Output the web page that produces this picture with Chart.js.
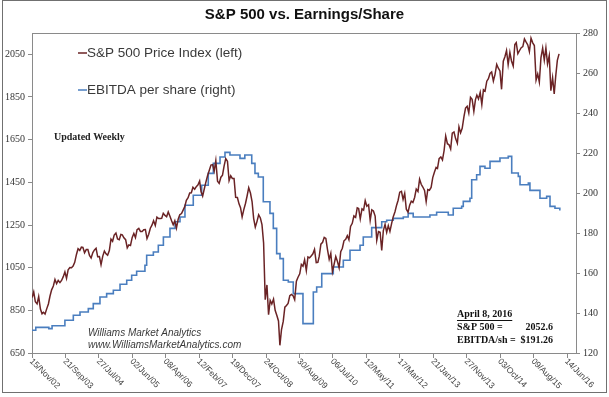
<!DOCTYPE html>
<html>
<head>
<meta charset="utf-8">
<script src="https://cdn.jsdelivr.net/npm/chart.js@4.4.1/dist/chart.umd.min.js"></script>
<style>
  html, body { margin: 0; padding: 0; background: #fff; }
  #wrap { width: 609px; height: 397px; position: relative; }
</style>
</head>
<body>
<div id="wrap"><canvas id="chart"></canvas></div>
<script>
// S&P 500, read twice a month (1st and 16th), starting 16 Nov 2002
const spxStart = [2002, 10, 16];
const spxValues = [
  910, 936, 890,
  880, 915, 856, 834, 841, 833, 858, 880, 917, 946, 964, 995, 975, 990, 980, 990, 1008, 1030, 1000, 1040, 1051, 1050, 1058, 1075,
  1112, 1139, 1131, 1146, 1145, 1120, 1135, 1135, 1107, 1095, 1121, 1133, 1141, 1101, 1102, 1064, 1104, 1128, 1115, 1108, 1130, 1184, 1174, 1203,
  1212, 1185, 1181, 1206, 1204, 1190, 1181, 1143, 1157, 1154, 1192, 1210, 1191, 1228, 1234, 1220, 1220, 1228, 1229, 1187, 1207, 1235, 1249, 1270,
  1248, 1287, 1280, 1280, 1281, 1305, 1295, 1289, 1311, 1292, 1270, 1251, 1270, 1236, 1277, 1298, 1304, 1320, 1336, 1366, 1378, 1400, 1401, 1427,
  1418, 1430, 1438, 1456, 1407, 1386, 1421, 1453, 1482, 1505, 1531, 1533, 1503, 1552, 1455, 1445, 1474, 1484, 1527, 1561, 1549, 1458, 1481, 1468,
  1468, 1380, 1379, 1349, 1331, 1288, 1323, 1351, 1386, 1425, 1400, 1360, 1280, 1240, 1267, 1298, 1283, 1252, 1166, 900, 969, 830, 896, 880,
  903, 850, 826, 800, 686, 760, 798, 865, 873, 882, 919, 925, 919, 900, 987, 1005, 1021, 1065, 1057, 1087, 1036, 1100, 1096, 1105,
  1115, 1136, 1074, 1075, 1104, 1160, 1169, 1192, 1187, 1136, 1089, 1117, 1031, 1065, 1102, 1080, 1049, 1125, 1141, 1176, 1183, 1200, 1181, 1243,
  1258, 1293, 1286, 1330, 1327, 1279, 1326, 1320, 1364, 1338, 1345, 1272, 1321, 1316, 1292, 1178, 1219, 1216, 1131, 1224, 1253, 1216, 1247, 1220,
  1258, 1289, 1312, 1343, 1366, 1404, 1408, 1370, 1398, 1324, 1310, 1343, 1362, 1356, 1379, 1418, 1407, 1465, 1441, 1428, 1412, 1360, 1416, 1413,
  1426, 1472, 1498, 1520, 1515, 1561, 1569, 1555, 1598, 1667, 1631, 1626, 1606, 1680, 1686, 1655, 1633, 1710, 1682, 1703, 1757, 1798, 1806, 1775,
  1848, 1839, 1783, 1838, 1859, 1841, 1872, 1815, 1884, 1878, 1924, 1936, 1960, 1967, 1925, 1955, 2003, 1985, 1972, 1886, 2018, 2039, 2068, 2002,
  2059, 2019, 1995, 2096, 2105, 2053, 2068, 2081, 2086, 2122, 2107, 2094, 2063, 2126, 2104, 2091, 1930, 1958, 1920, 2033, 2079, 2023, 2080, 2005,
  2044, 1880, 1940, 1864, 1948, 2022, 2052
];

// EBITDA per share: date each new level starts, and the level
const ebitdaDates = [
  '2002-11-15', '2002-12-20', '2003-04-20', '2003-05-20', '2003-09-16', '2003-12-03', '2004-02-03', '2004-04-20',
  '2004-06-05', '2004-08-06', '2004-10-07', '2004-12-08', '2005-02-08', '2005-04-11', '2005-05-27', '2005-07-12',
  '2005-09-27', '2005-10-13', '2005-12-14', '2006-01-29', '2006-03-17', '2006-05-17', '2006-07-03', '2006-08-18',
  '2006-10-03', '2006-12-19', '2007-03-07', '2007-05-07', '2007-06-23', '2007-08-24', '2007-10-09', '2007-11-24',
  '2008-02-25', '2008-04-10', '2008-06-13', '2008-07-13', '2008-08-13', '2008-09-28', '2008-11-29', '2008-12-30',
  '2009-01-30', '2009-03-02', '2009-04-02', '2009-05-18', '2009-07-03', '2009-10-01', '2010-01-05', '2010-02-05',
  '2010-03-24', '2010-07-09', '2010-10-10', '2010-12-11', '2011-03-14', '2011-04-13', '2011-06-30', '2011-10-01',
  '2011-11-16', '2012-01-16', '2012-04-18', '2012-06-02', '2012-07-19', '2012-12-21', '2013-02-21', '2013-06-09',
  '2013-07-25', '2013-10-11', '2013-10-26', '2013-12-27', '2014-01-12', '2014-02-27', '2014-03-30', '2014-05-15',
  '2014-07-01', '2014-10-01', '2014-12-17', '2015-01-18', '2015-03-20', '2015-04-05', '2015-06-21', '2015-07-06',
  '2015-10-07', '2015-12-08', '2016-01-08', '2016-02-23', '2016-04-08'
];
const ebitdaValues = [
  131.4, 132.8, 132.2, 133.6, 136.4, 138.9, 140.5, 142.2,
  144.7, 148.0, 149.7, 151.4, 154.4, 156.4, 158.9, 160.9,
  163.9, 168.9, 170.5, 173.9, 178.0, 182.3, 185.6, 188.0,
  193.9, 198.9, 203.9, 209.8, 214.8, 218.0, 220.3, 219.0,
  217.3, 219.0, 214.8, 209.8, 208.0, 195.6, 189.8, 182.3,
  169.7, 167.2, 156.4, 155.5, 149.7, 134.7, 150.5, 153.0,
  159.7, 163.0, 166.4, 171.4, 173.9, 178.0, 182.7, 185.6,
  186.4, 187.3, 188.0, 189.8, 188.0, 189.0, 190.4, 189.0,
  192.4, 193.3, 195.8, 197.4, 206.6, 209.1, 213.3, 212.4,
  215.8, 217.5, 218.3, 210.0, 208.3, 204.1, 205.0, 201.3,
  197.4, 198.3, 193.3, 192.4, 191.26
];

const xTickLabels = [
  '15/Nov/02', '21/Sep/03', '27/Jul/04', '02/Jun/05', '08/Apr/06', '12/Feb/07', '19/Dec/07', '24/Oct/08',
  '30/Aug/09', '06/Jul/10', '12/May/11', '17/Mar/12', '21/Jan/13', '27/Nov/13', '03/Oct/14', '09/Aug/15', '14/Jun/16'
];
const leftTicks = [650, 850, 1050, 1250, 1450, 1650, 1850, 2050];
const rightTicks = [120, 140, 160, 180, 200, 220, 240, 260, 280];
const xAxisEnd = '2016-09-05';

const noteLines = ['S&P 500 =', 'EBITDA/sh ='];
const noteValues = ['2052.6', '$191.26'];

const MONTHS = ['Jan', 'Feb', 'Mar', 'Apr', 'May', 'Jun', 'Jul', 'Aug', 'Sep', 'Oct', 'Nov', 'Dec'];

function dayOf(s) {
  let [y, m, d] = s.split('-').map(Number);
  return Date.UTC(y, m - 1, d) / 864e5;
}
function tickDay(label) {
  let [d, mon, yy] = label.split('/');
  return Date.UTC(2000 + Number(yy), MONTHS.indexOf(mon), Number(d)) / 864e5;
}

let spxPoints = [];
let [yr, mo, dy] = spxStart;
spxValues.forEach(v => {
  spxPoints.push({ x: Date.UTC(yr, mo, dy) / 864e5, y: v });
  if (dy === 1) {
    dy = 16;
  } else {
    dy = 1;
    mo++;
    if (mo === 12) { mo = 0; yr++; }
  }
});

let ebitdaPoints = ebitdaDates.map((d, i) => ({ x: dayOf(d), y: ebitdaValues[i] }));

const AXIS = '#8a8a8a';
const SPX_COLOR = '#6a2325';
const EBITDA_COLOR = '#4a7ebf';

const decorations = {
  id: 'decorations',
  afterDraw(chart) {
    let { ctx, chartArea: a, scales } = chart;
    ctx.save();

    // top edge of the plot frame
    ctx.strokeStyle = AXIS;
    ctx.lineWidth = 1;
    ctx.beginPath();
    ctx.moveTo(a.left, a.top + 0.5);
    ctx.lineTo(a.right, a.top + 0.5);
    ctx.stroke();

    // outer frame
    ctx.strokeStyle = '#707070';
    ctx.strokeRect(2.5, 0.5, 604, 392);

    // date labels, slanting down to the right
    ctx.fillStyle = '#404040';
    ctx.font = '8.5px "Liberation Sans", Arial, sans-serif';
    ctx.textAlign = 'left';
    ctx.textBaseline = 'middle';
    xTickLabels.forEach(l => {
      let px = scales.x.getPixelForValue(tickDay(l));
      ctx.save();
      ctx.translate(px - 1, a.bottom + 7);
      ctx.rotate(Math.PI / 4);
      ctx.fillText(l, 0, 0);
      ctx.restore();
    });

    // legend inside the plot
    let legend = [
      ['S&P 500 Price Index (left)', SPX_COLOR, 53],
      ['EBITDA per share (right)', EBITDA_COLOR, 90]
    ];
    ctx.font = '13.5px "Liberation Sans", Arial, sans-serif';
    ctx.textBaseline = 'middle';
    legend.forEach(([text, color, y]) => {
      ctx.strokeStyle = color;
      ctx.lineWidth = 1.5;
      ctx.beginPath();
      ctx.moveTo(78, y);
      ctx.lineTo(87, y);
      ctx.stroke();
      ctx.fillStyle = '#3a3a3a';
      ctx.fillText(text, 87, y);
    });

    ctx.fillStyle = '#222';
    ctx.font = 'bold 10px "Liberation Serif", "Times New Roman", serif';
    ctx.fillText('Updated Weekly', 54, 137);

    ctx.fillStyle = '#3a3a3a';
    ctx.font = 'italic 10px "Liberation Sans", Arial, sans-serif';
    ctx.fillText('Williams Market Analytics', 88, 333);
    ctx.fillText('www.WilliamsMarketAnalytics.com', 88, 345);

    // latest reading note
    ctx.fillStyle = '#111';
    ctx.font = 'bold 10px "Liberation Serif", "Times New Roman", serif';
    let head = 'April 8, 2016';
    ctx.fillText(head, 457, 314);
    let w = ctx.measureText(head).width;
    ctx.strokeStyle = '#111';
    ctx.lineWidth = 1;
    ctx.beginPath();
    ctx.moveTo(457, 320.5);
    ctx.lineTo(457 + w, 320.5);
    ctx.stroke();
    noteLines.forEach((t, i) => {
      let y = 327 + i * 13;
      ctx.textAlign = 'left';
      ctx.fillText(t, 457, y);
      ctx.textAlign = 'right';
      ctx.fillText(noteValues[i], 553, y);
    });

    ctx.restore();
  }
};

new Chart(document.getElementById('chart'), {
  type: 'line',
  data: {
    datasets: [
      {
        label: 'S&P 500 Price Index (left)',
        data: spxPoints,
        yAxisID: 'yL',
        borderColor: SPX_COLOR,
        borderWidth: 1.5,
        pointRadius: 0,
        tension: 0
      },
      {
        label: 'EBITDA per share (right)',
        data: ebitdaPoints,
        yAxisID: 'yR',
        borderColor: EBITDA_COLOR,
        borderWidth: 1.6,
        pointRadius: 0,
        stepped: true
      }
    ]
  },
  options: {
    responsive: true,
    maintainAspectRatio: false,
    animation: false,
    devicePixelRatio: 1,
    layout: { padding: 0 },
    plugins: {
      legend: { display: false },
      tooltip: { enabled: false },
      title: {
        display: true,
        text: 'S&P 500 vs. Earnings/Share',
        color: '#111',
        font: { family: '"Liberation Sans", Arial, sans-serif', size: 15, weight: 'bold' },
        padding: { top: 6, bottom: 9 }
      }
    },
    scales: {
      x: {
        type: 'linear',
        min: tickDay(xTickLabels[0]),
        max: dayOf(xAxisEnd),
        grid: { drawOnChartArea: false, drawTicks: true, tickLength: 5, color: AXIS },
        border: { color: AXIS },
        ticks: { display: false },
        afterBuildTicks: s => { s.ticks = xTickLabels.map(l => ({ value: tickDay(l) })); },
        afterFit: s => { s.height = 44; }
      },
      yL: {
        position: 'left',
        min: 650,
        max: 2150,
        grid: { drawOnChartArea: false, tickLength: 4, color: AXIS },
        border: { color: AXIS },
        ticks: {
          color: '#333',
          padding: 3,
          font: { family: '"Liberation Serif", "Times New Roman", serif', size: 10 },
          callback: v => String(v)
        },
        afterBuildTicks: s => { s.ticks = leftTicks.map(v => ({ value: v })); },
        afterFit: s => { s.width = 32; }
      },
      yR: {
        position: 'right',
        min: 120,
        max: 280,
        grid: { drawOnChartArea: false, tickLength: 4, color: AXIS },
        border: { color: AXIS },
        ticks: {
          color: '#333',
          padding: 3,
          font: { family: '"Liberation Serif", "Times New Roman", serif', size: 10 },
          callback: v => String(v)
        },
        afterBuildTicks: s => { s.ticks = rightTicks.map(v => ({ value: v })); },
        afterFit: s => { s.width = 33; }
      }
    }
  },
  plugins: [decorations]
});
</script>
</body>
</html>
